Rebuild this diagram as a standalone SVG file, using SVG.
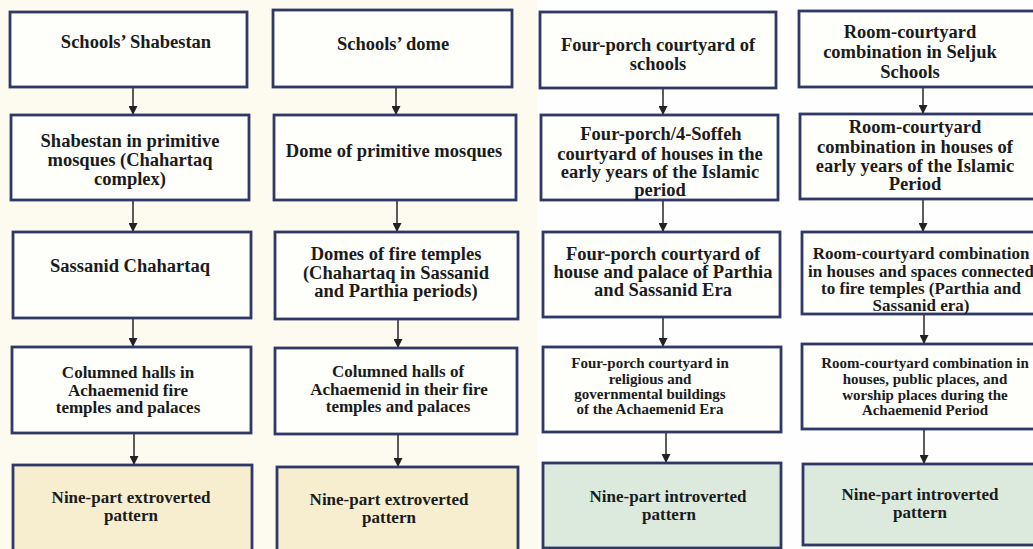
<svg xmlns="http://www.w3.org/2000/svg" width="1033" height="549" viewBox="0 0 1033 549">
<defs>
<style>
.bx{fill:#fefefb;stroke:#2f3866;stroke-width:2.8}
.ex{fill:#f7eed0;stroke:#2f3866;stroke-width:2.8}
.in{fill:#dceade;stroke:#2f3866;stroke-width:2.8}
text{font-family:"Liberation Serif","Times New Roman",serif;font-weight:bold;fill:#1b1b1b;text-anchor:middle}
.t{font-size:18.5px}
.m{font-size:17px}
.s{font-size:15px}
.cn line{stroke:#333;stroke-width:1.6}
</style>
<marker id="ah" viewBox="0 0 10 10" refX="10" refY="5" markerWidth="9" markerHeight="9" markerUnits="userSpaceOnUse" orient="auto">
<path d="M0,0 L10,5 L0,10 z" fill="#222"/>
</marker>
</defs>
<rect x="0" y="0" width="1033" height="549" fill="#fefefe"/>
<rect x="0" y="0" width="537" height="549" fill="#fdfbf0"/>

<g class="cn">
<line x1="133" y1="87" x2="133" y2="115" marker-end="url(#ah)"/>
<line x1="133" y1="200" x2="133" y2="232" marker-end="url(#ah)"/>
<line x1="133" y1="318" x2="133" y2="347" marker-end="url(#ah)"/>
<line x1="134" y1="433" x2="134" y2="465" marker-end="url(#ah)"/>
<line x1="396" y1="87" x2="396" y2="115" marker-end="url(#ah)"/>
<line x1="397" y1="200" x2="397" y2="232" marker-end="url(#ah)"/>
<line x1="398" y1="319" x2="398" y2="348" marker-end="url(#ah)"/>
<line x1="398" y1="434" x2="398" y2="467" marker-end="url(#ah)"/>
<line x1="663" y1="88" x2="663" y2="115" marker-end="url(#ah)"/>
<line x1="663" y1="200" x2="663" y2="232" marker-end="url(#ah)"/>
<line x1="663" y1="317" x2="663" y2="347" marker-end="url(#ah)"/>
<line x1="666" y1="432" x2="666" y2="463" marker-end="url(#ah)"/>
<line x1="923" y1="87" x2="923" y2="114" marker-end="url(#ah)"/>
<line x1="923" y1="199" x2="923" y2="232" marker-end="url(#ah)"/>
<line x1="924" y1="314" x2="924" y2="344" marker-end="url(#ah)"/>
<line x1="924" y1="429" x2="924" y2="464" marker-end="url(#ah)"/>
</g>

<g id="c1b1"><rect class="bx" x="10" y="12" width="237" height="75"/>
<text class="t" x="136" y="48">Schools’ Shabestan</text></g>
<g id="c1b2"><rect class="bx" x="11" y="115" width="238" height="85"/>
<text class="t" x="130" y="147">Shabestan in primitive</text>
<text class="t" x="130" y="166">mosques (Chahartaq</text>
<text class="t" x="130" y="185">complex)</text></g>
<g id="c1b3"><rect class="bx" x="13" y="232" width="238" height="86"/>
<text class="t" x="130" y="272">Sassanid Chahartaq</text></g>
<g id="c1b4"><rect class="bx" x="12" y="347" width="239" height="86"/>
<text class="m" x="128" y="378">Columned halls in</text>
<text class="m" x="128" y="396">Achaemenid fire</text>
<text class="m" x="128" y="413">temples and palaces</text></g>
<g id="c1b5"><rect class="ex" x="13" y="465" width="239" height="95"/>
<text class="m" x="131" y="503">Nine-part extroverted</text>
<text class="m" x="131" y="521">pattern</text></g>

<g id="c2b1"><rect class="bx" x="273" y="10" width="239" height="77"/>
<text class="t" x="393" y="50">Schools’ dome</text></g>
<g id="c2b2"><rect class="bx" x="274" y="115" width="242" height="85"/>
<text class="t" x="394" y="157">Dome of primitive mosques</text></g>
<g id="c2b3"><rect class="bx" x="275" y="232" width="243" height="87"/>
<text class="t" x="396" y="260">Domes of fire temples</text>
<text class="t" x="396" y="279">(Chahartaq in Sassanid</text>
<text class="t" x="396" y="297">and Parthia periods)</text></g>
<g id="c2b4"><rect class="bx" x="275" y="348" width="242" height="86"/>
<text class="m" x="398" y="377">Columned halls of</text>
<text class="m" x="399" y="395">Achaemenid in their fire</text>
<text class="m" x="398" y="412">temples and palaces</text></g>
<g id="c2b5"><rect class="ex" x="277" y="467" width="241" height="95"/>
<text class="m" x="389" y="505">Nine-part extroverted</text>
<text class="m" x="389" y="523">pattern</text></g>

<g id="c3b1"><rect class="bx" x="540" y="12" width="236" height="76"/>
<text class="t" x="658" y="51">Four-porch courtyard of</text>
<text class="t" x="658" y="70">schools</text></g>
<g id="c3b2"><rect class="bx" x="541" y="115" width="237" height="85"/>
<text class="t" x="661" y="140">Four-porch/4-Soffeh</text>
<text class="t" x="660" y="160">courtyard of houses in the</text>
<text class="t" x="660" y="178">early years of the Islamic</text>
<text class="t" x="660" y="196">period</text></g>
<g id="c3b3"><rect class="bx" x="543" y="232" width="237" height="85"/>
<text class="t" x="663" y="260">Four-porch courtyard of</text>
<text class="t" x="663" y="278">house and palace of Parthia</text>
<text class="t" x="663" y="296">and Sassanid Era</text></g>
<g id="c3b4"><rect class="bx" x="543" y="347" width="238" height="85"/>
<text class="s" x="650" y="368">Four-porch courtyard in</text>
<text class="s" x="650" y="384">religious and</text>
<text class="s" x="650" y="399">governmental buildings</text>
<text class="s" x="650" y="414">of the Achaemenid Era</text></g>
<g id="c3b5"><rect class="in" x="543" y="463" width="238" height="85"/>
<text class="m" x="668" y="502">Nine-part introverted</text>
<text class="m" x="669" y="520">pattern</text></g>

<g id="c4b1"><rect class="bx" x="799" y="11" width="250" height="76"/>
<text class="t" x="910" y="38">Room-courtyard</text>
<text class="t" x="910" y="58">combination in Seljuk</text>
<text class="t" x="910" y="78">Schools</text></g>
<g id="c4b2"><rect class="bx" x="800" y="114" width="250" height="85"/>
<text class="t" x="915" y="133">Room-courtyard</text>
<text class="t" x="915" y="153">combination in houses of</text>
<text class="t" x="915" y="172">early years of the Islamic</text>
<text class="t" x="915" y="190">Period</text></g>
<g id="c4b3"><rect class="bx" x="802" y="232" width="250" height="82"/>
<text class="m" x="921" y="259">Room-courtyard combination</text>
<text class="m" x="921" y="277">in houses and spaces connected</text>
<text class="m" x="921" y="294">to fire temples (Parthia and</text>
<text class="m" x="921" y="311">Sassanid era)</text></g>
<g id="c4b4"><rect class="bx" x="802" y="344" width="250" height="85"/>
<text class="s" x="925" y="368">Room-courtyard combination in</text>
<text class="s" x="925" y="384">houses, public places, and</text>
<text class="s" x="925" y="400">worship places during the</text>
<text class="s" x="925" y="415">Achaemenid Period</text></g>
<g id="c4b5"><rect class="in" x="803" y="464" width="250" height="81"/>
<text class="m" x="920" y="500">Nine-part introverted</text>
<text class="m" x="920" y="518">pattern</text></g>
</svg>
